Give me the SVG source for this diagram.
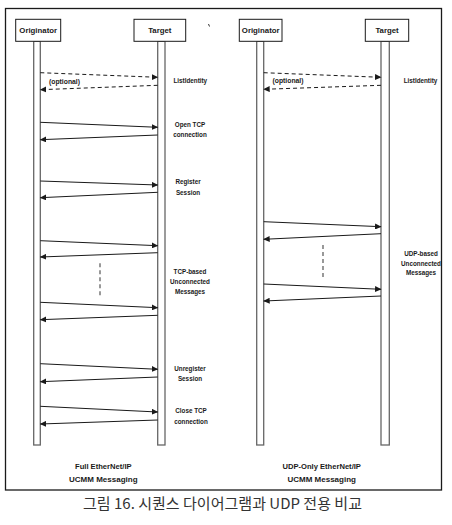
<svg xmlns="http://www.w3.org/2000/svg" width="452" height="525" viewBox="0 0 452 525">
<defs>
<marker id="ah" markerUnits="userSpaceOnUse" markerWidth="7" markerHeight="6" refX="6" refY="3" orient="auto">
<path d="M0,0 L6.5,3 L0,6 z" fill="#1a1a1a"/>
</marker>
<style>
.frame{fill:none;stroke:#1a1a1a;stroke-width:1.3}
.box{fill:#fff;stroke:#1a1a1a;stroke-width:1}
.life{fill:#fff;stroke:#666;stroke-width:1.3}
.msg{fill:none;stroke:#1a1a1a;stroke-width:1;marker-end:url(#ah)}
.dash{stroke-dasharray:4,3}
.vd{fill:none;stroke:#555;stroke-width:1.2;stroke-dasharray:4,3}
.t{font-family:"Liberation Sans",Arial,sans-serif;font-weight:bold;fill:#1a1a1a;text-anchor:middle}
.bx{font-size:7.8px}
.lb{font-size:6.3px}
.ft{font-size:8px}
.cap{font-family:"Noto Sans CJK KR","Noto Sans",sans-serif;font-size:15px;fill:#333;text-anchor:middle}
</style>
</defs>
<rect class="frame" x="5.5" y="8.5" width="436" height="481.5"/>
<line x1="208.5" y1="24" x2="209.5" y2="26.5" stroke="#333" stroke-width="1"/>

<g id="left-originator">
<rect class="life" x="33.7" y="41.3" width="6.6" height="403.7"/>
<rect class="box" x="15.7" y="19.3" width="45" height="22"/>
<text class="t bx" x="38.2" y="33.2">Originator</text>
</g>
<g id="left-target">
<rect class="life" x="157.7" y="41.3" width="7.3" height="403.7"/>
<rect class="box" x="134" y="19.3" width="51.7" height="22"/>
<text class="t bx" x="159.8" y="33.2">Target</text>
</g>
<g id="right-originator">
<rect class="life" x="256.7" y="41.3" width="7" height="403.7"/>
<rect class="box" x="239.3" y="19.3" width="42.7" height="22"/>
<text class="t bx" x="260.7" y="33.2">Originator</text>
</g>
<g id="right-target">
<rect class="life" x="381" y="41.3" width="8.3" height="403.7"/>
<rect class="box" x="365.3" y="19.3" width="43.4" height="22"/>
<text class="t bx" x="387" y="33.2">Target</text>
</g>

<g id="connectors">
<line class="msg dash" x1="40.3" y1="72.7" x2="157.7" y2="77.3"/>
<line class="msg dash" x1="157.7" y1="85.3" x2="40.3" y2="89.7"/>
<line class="msg" x1="40.3" y1="122.3" x2="157.7" y2="127.3"/>
<line class="msg" x1="157.7" y1="135" x2="40.3" y2="139.7"/>
<line class="msg" x1="40.3" y1="181" x2="157.7" y2="185"/>
<line class="msg" x1="157.7" y1="192.3" x2="40.3" y2="197.7"/>
<line class="msg" x1="40.3" y1="240.7" x2="157.7" y2="245.7"/>
<line class="msg" x1="157.7" y1="252.7" x2="40.3" y2="257"/>
<line class="vd" x1="100" y1="263.3" x2="100" y2="296.7"/>
<line class="msg" x1="40.3" y1="302.3" x2="157.7" y2="307.7"/>
<line class="msg" x1="157.7" y1="315.3" x2="40.3" y2="319.7"/>
<line class="msg" x1="40.3" y1="363.7" x2="157.7" y2="369.3"/>
<line class="msg" x1="157.7" y1="377" x2="40.3" y2="381.7"/>
<line class="msg" x1="40.3" y1="406.3" x2="157.7" y2="412"/>
<line class="msg" x1="157.7" y1="420" x2="40.3" y2="424"/>

<line class="msg dash" x1="263.7" y1="72.7" x2="381" y2="77.3"/>
<line class="msg dash" x1="381" y1="85.3" x2="263.7" y2="89.3"/>
<line class="msg" x1="263.7" y1="221.7" x2="381" y2="226.7"/>
<line class="msg" x1="381" y1="233.7" x2="263.7" y2="239.3"/>
<line class="vd" x1="323" y1="245" x2="323" y2="279"/>
<line class="msg" x1="263.7" y1="284" x2="381" y2="289.3"/>
<line class="msg" x1="381" y1="296" x2="263.7" y2="301"/>
</g>

<g id="labels">
<text class="t" style="font-size:6.8px" x="64.5" y="83.5">(optional)</text>
<text class="t lb" x="190.3" y="83.3">ListIdentity</text>
<text class="t lb" x="190" y="127">Open TCP</text>
<text class="t lb" x="190" y="136.6">connection</text>
<text class="t lb" x="188" y="184">Register</text>
<text class="t lb" x="188" y="194.6">Session</text>
<text class="t lb" x="190" y="274">TCP-based</text>
<text class="t lb" x="190" y="284">Unconnected</text>
<text class="t lb" x="190" y="294">Messages</text>
<text class="t lb" x="190" y="370.6">Unregister</text>
<text class="t lb" x="190" y="380.6">Session</text>
<text class="t lb" x="191" y="412.6">Close TCP</text>
<text class="t lb" x="191" y="424">connection</text>

<text class="t" style="font-size:6.8px" x="288" y="83.3">(optional)</text>
<text class="t lb" x="420.5" y="83.3">ListIdentity</text>
<text class="t lb" x="421" y="255.6">UDP-based</text>
<text class="t lb" x="421" y="265.6">Unconnected</text>
<text class="t lb" x="421" y="274.6">Messages</text>

<text class="t" style="font-size:7.6px" x="103.3" y="469.3">Full EtherNet/IP</text>
<text class="t ft" x="103.3" y="482">UCMM Messaging</text>
<text class="t" style="font-size:7.6px" x="321.7" y="469.3">UDP-Only EtherNet/IP</text>
<text class="t ft" x="321.7" y="482">UCMM Messaging</text>
</g>

<text class="cap" x="222.5" y="509" textLength="279" lengthAdjust="spacingAndGlyphs">그림 16. 시퀀스 다이어그램과 UDP 전용 비교</text>
</svg>
